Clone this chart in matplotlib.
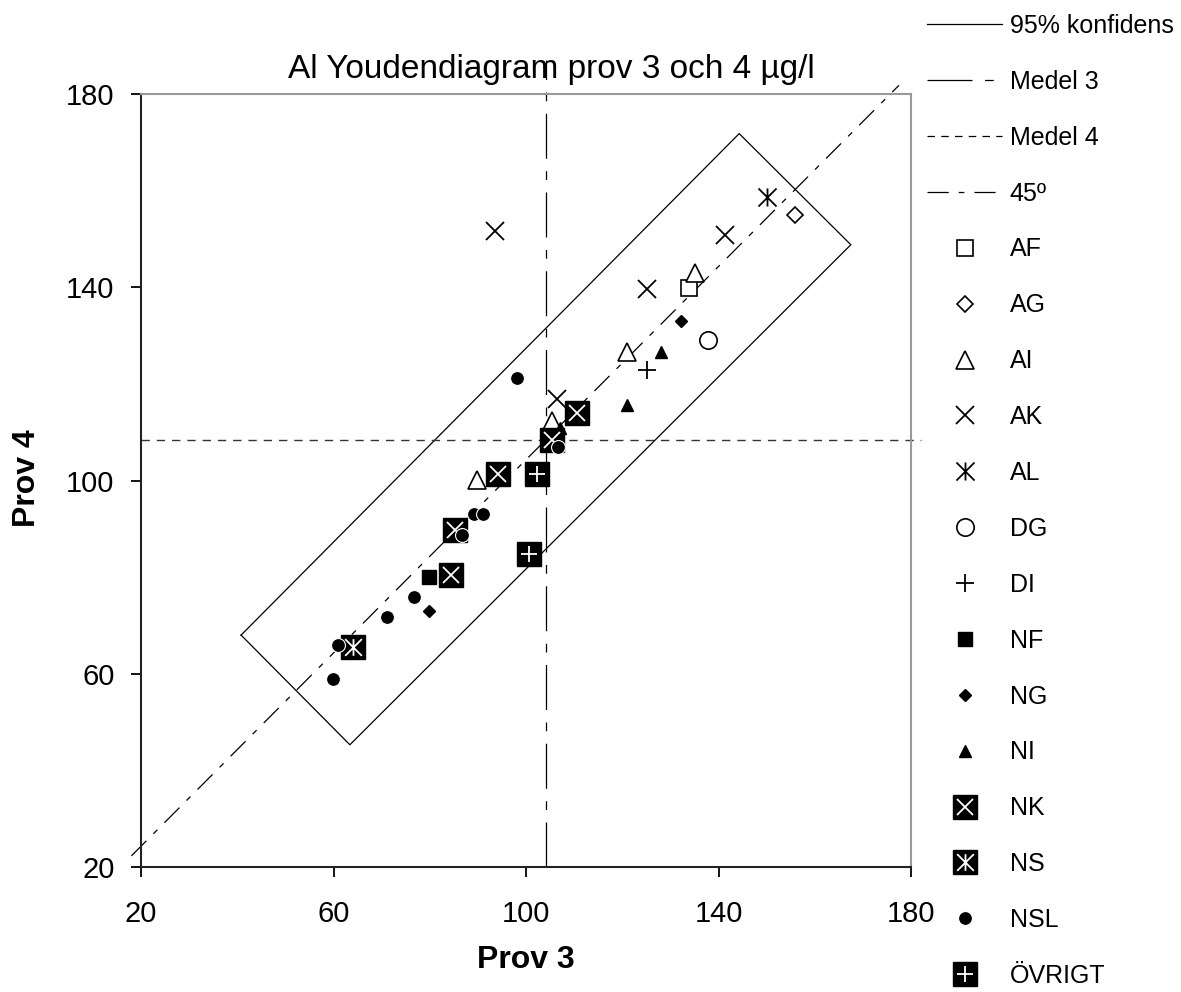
import numpy as np
import matplotlib
matplotlib.use("Agg")
import matplotlib.pyplot as plt
from matplotlib.lines import Line2D
from matplotlib.path import Path

plt.rcParams['font.family'] = ['Liberation Sans', 'DejaVu Sans']

# medelvärden och 95% konfidensruta
medel3 = 104.1
medel4 = 108.4
konf_x = [40.8, 144.3, 167.5, 63.4, 40.8]
konf_y = [68.0, 171.8, 148.8, 45.3, 68.0]
medel3_y = [20, 187]
medel4_x = [20, 182]
line45_x = [18, 177.5]

# resultat per metod (prov 3, prov 4)
af_x = [133.9]; af_y = [139.8]
ag_x = [155.9]; ag_y = [155.0]
ai_x = [89.8, 105.4, 120.9, 135.1]; ai_y = [100.1, 112.3, 126.7, 142.9]
ak_x = [93.6, 106.4, 125.2, 141.3]; ak_y = [151.7, 116.8, 139.6, 150.8]
al_x = [150.1]; al_y = [158.7]
dg_x = [137.8]; dg_y = [129.1]
di_x = [125.1]; di_y = [122.9]
nf_x = [79.8]; nf_y = [80.0]
ng_x = [79.8, 132.2]; ng_y = [73.0, 133.0]
ni_x = [107.1, 121.0, 128.1]; ni_y = [110.9, 115.7, 126.6]
nk_x = [84.4, 85.2, 94.2, 105.3, 110.5]; nk_y = [80.5, 89.8, 101.4, 108.4, 113.9]
ns_x = [64.1]; ns_y = [65.6]
nsl_x = [59.8, 61.0, 71.1, 76.7, 86.6, 89.1, 91.1, 98.1, 106.7]
nsl_y = [58.9, 66.0, 71.8, 75.9, 88.7, 93.1, 93.1, 121.2, 107.0]
ovr_x = [100.6, 102.3]; ovr_y = [84.8, 101.4]

ticks = [20, 60, 100, 140, 180]

# asterisk marker like excel (X + vertical bar)
star = Path([(-1, -1), (1, 1), (-1, 1), (1, -1), (0, -1), (0, 1)],
            [Path.MOVETO, Path.LINETO, Path.MOVETO, Path.LINETO, Path.MOVETO, Path.LINETO])

fig = plt.figure(figsize=(11.81, 9.92), dpi=100)
ax = fig.add_axes([141/1181, 1-867/992, 770/1181, 773/992])

ls_m3 = (0, (36, 10, 7, 10))
ls_m4 = (0, (6, 5))
ls_45 = (0, (17, 8, 4.5, 8))

ax.plot(konf_x, konf_y, color='black', lw=0.9, clip_on=False, zorder=2)
ax.plot([medel3, medel3], medel3_y, color='black', lw=0.9, ls=ls_m3, clip_on=False, zorder=2)
ax.plot(medel4_x, [medel4, medel4], color='#333333', lw=1.0, ls=ls_m4, clip_on=False, zorder=2)
l45_y = [v + (medel4 - medel3) for v in line45_x]
ax.plot(line45_x, l45_y, color='black', lw=0.9, ls=ls_45, clip_on=False, zorder=2)

def pts(x, y, **kw):
    ax.plot(x, y, ls='none', clip_on=False, zorder=3, **kw)

open_kw = dict(mfc='white', mec='black', mew=1.2)
pts(af_x, af_y, marker='s', ms=12, **open_kw)
pts(ag_x, ag_y, marker='D', ms=8.5, **open_kw)
pts(ai_x, ai_y, marker='^', ms=13, **open_kw)
pts(ak_x, ak_y, marker='x', ms=12.5, mec='black', mew=1.3)
pts(al_x, al_y, marker=star, ms=13, mec='black', mew=1.3)
pts(dg_x, dg_y, marker='o', ms=12.5, **open_kw)
pts(di_x, di_y, marker='+', ms=13, mec='black', mew=1.3)
pts(nf_x, nf_y, marker='s', ms=9.5, mfc='black', mec='black')
pts(ng_x, ng_y, marker='D', ms=6, mfc='black', mec='black')
pts(ni_x, ni_y, marker='^', ms=8, mfc='black', mec='black')
pts(nk_x, nk_y, marker='s', ms=17, mfc='black', mec='black')
pts(nk_x, nk_y, marker='x', ms=12, mec='white', mew=1.3)
pts(ns_x, ns_y, marker='s', ms=17, mfc='black', mec='black')
pts(ns_x, ns_y, marker=star, ms=12, mec='white', mew=1.3)
pts(nsl_x, nsl_y, marker='o', ms=10, mfc='black', mec='white', mew=0.8)
pts(ovr_x, ovr_y, marker='s', ms=17, mfc='black', mec='black')
pts(ovr_x, ovr_y, marker='+', ms=12, mec='white', mew=1.3)

ax.set_xlim(20, 180)
ax.set_ylim(20, 180)
ax.set_xticks(ticks)
ax.set_yticks(ticks)
ax.tick_params(axis='both', direction='out', length=7, width=1.3, labelsize=21)
ax.tick_params(axis='x', pad=17)
ax.tick_params(axis='y', pad=12)
for s in ['left', 'bottom']:
    ax.spines[s].set_color('#222222')
    ax.spines[s].set_linewidth(1.5)
for s in ['top', 'right']:
    ax.spines[s].set_color('#999999')
    ax.spines[s].set_linewidth(1.5)

fig.text(551/1181, 1-78/992, 'Al Youdendiagram prov 3 och 4 µg/l', ha='center', va='baseline', fontsize=24)
fig.text(526/1181, 1-960/992, 'Prov 3', ha='center', va='center', fontsize=23, fontweight='bold')
fig.text(27/1181, 1-478/992, 'Prov 4', ha='center', va='center', fontsize=23, fontweight='bold', rotation=90)

# legend
def mk(**kw):
    return Line2D([], [], ls='none', **kw)

handles = [
    Line2D([], [], color='black', lw=0.9),
    Line2D([], [], color='black', lw=0.9, ls=ls_m3),
    Line2D([], [], color='black', lw=0.9, ls=ls_m4),
    Line2D([], [], color='black', lw=0.9, ls=ls_45),
    mk(marker='s', ms=12, **open_kw),
    mk(marker='D', ms=8.5, **open_kw),
    mk(marker='^', ms=13, **open_kw),
    mk(marker='x', ms=12.5, mec='black', mew=1.3),
    mk(marker=star, ms=13, mec='black', mew=1.3),
    mk(marker='o', ms=12.5, **open_kw),
    mk(marker='+', ms=13, mec='black', mew=1.3),
    mk(marker='s', ms=9.5, mfc='black', mec='black'),
    mk(marker='D', ms=6, mfc='black', mec='black'),
    mk(marker='^', ms=8, mfc='black', mec='black'),
    (mk(marker='s', ms=17, mfc='black', mec='black'), mk(marker='x', ms=12, mec='white', mew=1.3)),
    (mk(marker='s', ms=17, mfc='black', mec='black'), mk(marker=star, ms=12, mec='white', mew=1.3)),
    mk(marker='o', ms=10, mfc='black', mec='white', mew=0.8),
    (mk(marker='s', ms=17, mfc='black', mec='black'), mk(marker='+', ms=12, mec='white', mew=1.3)),
]
labels = ['95% konfidens', 'Medel 3', 'Medel 4', '45º', 'AF', 'AG', 'AI', 'AK', 'AL',
          'DG', 'DI', 'NF', 'NG', 'NI', 'NK', 'NS', 'NSL', 'ÖVRIGT']

fig.legend(handles, labels, loc='upper left', bbox_to_anchor=(927/1181, 1-14/992),
           frameon=False, fontsize=18, handlelength=3, handletextpad=0.3,
           labelspacing=1.275, borderpad=0, borderaxespad=0, numpoints=1)

fig.savefig('out.png', dpi=100)
